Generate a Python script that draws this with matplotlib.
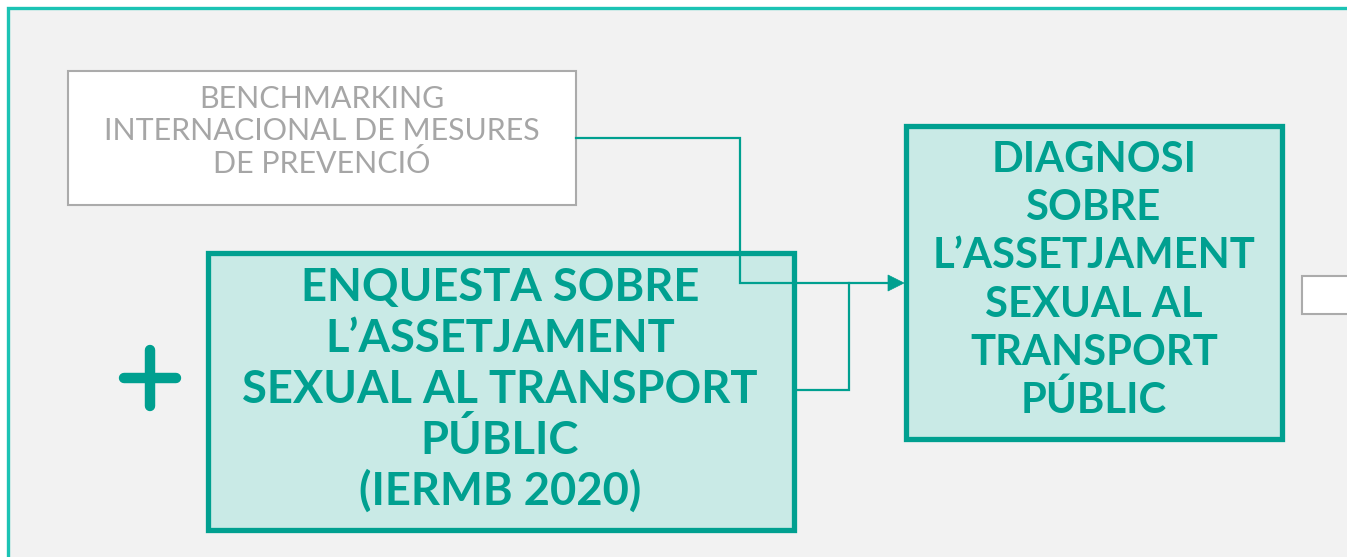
import matplotlib
matplotlib.use('Agg')
import matplotlib.pyplot as plt
from matplotlib.patches import Rectangle, Polygon

plt.rcParams['font.family'] = ['Lato', 'DejaVu Sans']

# texts of the diagram
benchmark_lines = ["BENCHMARKING", "INTERNACIONAL DE MESURES", "DE PREVENCIÓ"]
enquesta_lines = ["ENQUESTA SOBRE", "L\u2019ASSETJAMENT", "SEXUAL AL TRANSPORT", "PÚBLIC", "(IERMB 2020)"]
diagnosi_lines = ["DIAGNOSI", "SOBRE", "L\u2019ASSETJAMENT", "SEXUAL AL", "TRANSPORT", "PÚBLIC"]

teal = "#00a090"
teal_fill = "#c9eae6"
frame_col = "#1cc3b4"
grey_edge = "#ababab"
grey_text = "#a6a6a6"
bg = "#f2f2f2"

W, H = 1347, 557
fig = plt.figure(figsize=(W / 100, H / 100), dpi=100)
fig.patch.set_facecolor("white")
ax = fig.add_axes([0, 0, 1, 1])
ax.set_xlim(0, W)
ax.set_ylim(H, 0)
ax.axis("off")
renderer = fig.canvas.get_renderer()

PX = 100 / 72.0  # pixels per point


def fit_size(lines, width, weight):
    t = ax.text(0, 0, max(lines, key=len), fontsize=10, fontweight=weight)
    w = t.get_window_extent(renderer).width
    t.remove()
    return 10 * width / w


def draw_lines(lines, cx, centers_top, step, size, color, weight):
    for i, s in enumerate(lines):
        y = centers_top + i * step + 0.36 * size * PX
        ax.text(cx, y, s, ha="center", va="baseline", fontsize=size,
                fontweight=weight, color=color, zorder=5)


# outer frame
ax.add_patch(Rectangle((8, 8), W + 20, H + 20, facecolor=bg, edgecolor=frame_col,
                       lw=2.4, zorder=0))

# benchmark box
ax.add_patch(Rectangle((68, 71), 508, 134, facecolor="white", edgecolor=grey_edge,
                       lw=1.5, zorder=2))
fs_b = fit_size(benchmark_lines, 432, "normal")
draw_lines(benchmark_lines, 322, 97, 32.5, fs_b, grey_text, "normal")

# enquesta box
ax.add_patch(Rectangle((208, 253), 586, 277, facecolor=teal_fill, edgecolor=teal,
                       lw=3.8, zorder=2))
fs_e = fit_size(enquesta_lines, 516, "bold")
draw_lines(enquesta_lines, 500, 285, 50.8, fs_e, teal, "bold")

# diagnosi box
ax.add_patch(Rectangle((906, 126), 376, 313, facecolor=teal_fill, edgecolor=teal,
                       lw=3.8, zorder=2))
fs_d = fit_size(diagnosi_lines, 323, "bold")
draw_lines(diagnosi_lines, 1094, 157, 48.2, fs_d, teal, "bold")

# partial box at the right edge
ax.add_patch(Rectangle((1302, 276), 80, 38, facecolor="white", edgecolor=grey_edge,
                       lw=1.5, zorder=2))

# connectors
ax.plot([576, 740, 740, 890], [138, 138, 283, 283], color=teal, lw=1.6, zorder=4,
        solid_joinstyle="miter")
ax.plot([795, 849, 849], [390, 390, 283], color=teal, lw=1.6, zorder=4,
        solid_joinstyle="miter")
ax.add_patch(Polygon([[888, 275], [904, 283], [888, 291]], closed=True,
                     facecolor=teal, edgecolor=teal, lw=0.5, zorder=4))

# plus sign
ax.plot([124, 176], [378, 378], color=teal, lw=7.5, solid_capstyle="round", zorder=3)
ax.plot([150, 150], [350, 406], color=teal, lw=7.5, solid_capstyle="round", zorder=3)

fig.savefig("out.png", dpi=100, facecolor=fig.get_facecolor())
